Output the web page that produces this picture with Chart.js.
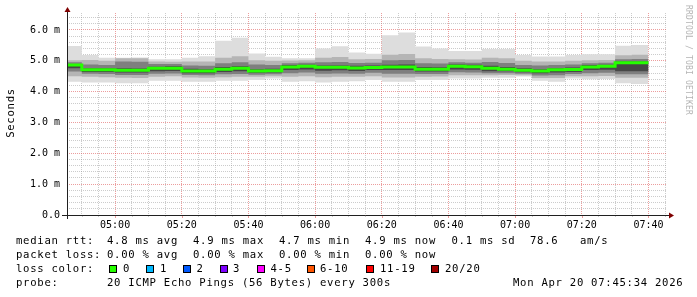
<!DOCTYPE html>
<html><head><meta charset="utf-8">
<script src="https://cdn.jsdelivr.net/npm/chart.js@4/dist/chart.umd.min.js"></script>
<style>html,body{margin:0;padding:0;background:#fff;overflow:hidden}canvas{display:block}</style>
</head><body>
<canvas id="c" width="697" height="297"></canvas>
<script>
// ---- data ----
const startTime = '04:45:34';
const endTime = '07:45:34';
const stepEnds = ['04:50','04:55','05:00','05:05','05:10','05:15','05:20','05:25','05:30','05:35','05:40','05:45',
  '05:50','05:55','06:00','06:05','06:10','06:15','06:20','06:25','06:30','06:35','06:40','06:45',
  '06:50','06:55','07:00','07:05','07:10','07:15','07:20','07:25','07:30','07:35','07:40'];
const medianRtt = [4.86,4.71,4.71,4.69,4.69,4.76,4.76,4.67,4.67,4.73,4.76,4.67,4.68,4.80,4.82,4.79,4.79,4.77,4.78,4.80,4.80,4.73,4.73,4.82,4.81,4.76,4.73,4.69,4.67,4.71,4.72,4.80,4.82,4.94,4.94];
const smokeMax = [5.48,5.19,5.10,5.10,5.11,5.05,5.05,5.10,5.15,5.65,5.75,5.24,5.13,5.08,5.08,5.40,5.47,5.27,5.23,5.83,5.92,5.46,5.40,5.32,5.32,5.38,5.38,5.19,5.14,5.14,5.19,5.21,5.21,5.49,5.51];
const smokeP18 = [5.02,5.03,5.00,5.08,5.08,4.98,4.97,4.98,4.98,5.10,5.15,5.02,5.00,5.01,5.02,5.10,5.12,5.05,5.06,5.20,5.22,5.08,5.06,5.05,5.04,5.10,5.08,5.00,4.98,4.98,5.00,5.02,5.03,5.18,5.20];
const smokeP15 = [4.95,4.88,4.86,4.98,4.97,4.90,4.90,4.85,4.84,4.92,4.95,4.88,4.86,4.92,4.94,4.95,4.96,4.93,4.94,5.02,5.03,4.92,4.91,4.95,4.94,4.96,4.93,4.86,4.85,4.86,4.88,4.92,4.94,5.05,5.06];
const smokeP12 = [4.90,4.76,4.76,4.76,4.75,4.81,4.82,4.74,4.73,4.80,4.82,4.73,4.74,4.86,4.87,4.85,4.85,4.84,4.85,4.87,4.88,4.80,4.79,4.88,4.87,4.84,4.80,4.76,4.73,4.76,4.78,4.86,4.87,4.98,4.98];
const smokeP9 = [4.76,4.64,4.64,4.62,4.62,4.66,4.67,4.60,4.60,4.64,4.66,4.61,4.62,4.70,4.72,4.68,4.69,4.67,4.70,4.70,4.70,4.65,4.65,4.72,4.71,4.66,4.66,4.63,4.60,4.62,4.64,4.70,4.71,4.66,4.66];
const smokeP6 = [4.65,4.58,4.57,4.54,4.54,4.58,4.59,4.54,4.53,4.56,4.57,4.55,4.56,4.60,4.62,4.58,4.59,4.58,4.61,4.58,4.58,4.57,4.57,4.63,4.62,4.60,4.60,4.58,4.52,4.53,4.57,4.60,4.61,4.56,4.56];
const smokeP3 = [4.50,4.48,4.47,4.45,4.44,4.48,4.50,4.46,4.45,4.47,4.48,4.48,4.50,4.48,4.50,4.47,4.48,4.48,4.50,4.46,4.46,4.48,4.49,4.53,4.53,4.53,4.54,4.53,4.44,4.44,4.50,4.50,4.51,4.45,4.45];
const smokeMin = [4.32,4.30,4.30,4.27,4.27,4.35,4.35,4.32,4.32,4.35,4.35,4.38,4.43,4.32,4.34,4.30,4.32,4.34,4.38,4.32,4.32,4.38,4.38,4.43,4.43,4.45,4.45,4.49,4.35,4.32,4.43,4.40,4.41,4.27,4.25];
const xTickLabels = ['05:00','05:20','05:40','06:00','06:20','06:40','07:00','07:20','07:40'];
const yTickValues = [0,1,2,3,4,5,6];
const yTickLabels = ['0.0','1.0 m','2.0 m','3.0 m','4.0 m','5.0 m','6.0 m'];
const lossLabels = ['0','1','2','3','4-5','6-10','11-19','20/20'];
const lossColors = ['#26ff00','#00b8ff','#0059ff','#7e00ff','#ff00ff','#ff5500','#ff0000','#a10000'];

// ---- helpers ----
function toMin(s){ const p=s.split(':').map(Number); return p[0]*60+p[1]+(p[2]||0)/60; }
const T0 = toMin(startTime), T1 = toMin(endTime);
function stepPts(vals){
  const pts=[{x:T0,y:vals[0]}];
  stepEnds.forEach((t,i)=>pts.push({x:toMin(t),y:vals[i]}));
  return pts;
}
const xLabelMap = {}; xTickLabels.forEach(l=>xLabelMap[toMin(l)]=l);
const yLabelMap = {}; yTickValues.forEach((v,i)=>yLabelMap[v]=yTickLabels[i]);

const none='rgba(0,0,0,0)';
function band(vals, fill, color){
  return {data:stepPts(vals), stepped:'after', borderColor:none, borderWidth:0, pointRadius:0,
    fill: fill ? '+1' : false, backgroundColor: color||none};
}
const datasets = [
  {data:stepPts(medianRtt), stepped:'after', borderColor:'#26ff00', borderWidth:3, pointRadius:0, fill:false},
  band(smokeP12,true,'#474747'), band(smokeP9,false),
  band(smokeP15,true,'#7f7f7f'), band(smokeP6,false),
  band(smokeP18,true,'#b5b5b5'), band(smokeP3,false),
  band(smokeMax,true,'#dddddd'), band(smokeMin,false)
];

const GRID='rgba(143,143,143,0.46)', MGRID='rgba(222,80,80,0.56)';
const MONO='"DejaVu Sans Mono", monospace';

function drawMono(ctx, str, x, y, adv){
  for(let i=0;i<str.length;i++) ctx.fillText(str[i], x+i*adv, y);
}

const deco = {
  id:'deco',
  beforeDraw(chart){ const c=chart.ctx; c.save(); c.fillStyle='#fff'; c.fillRect(0,0,chart.width,chart.height); c.restore(); },
  afterDraw(chart){
    const c=chart.ctx, a=chart.chartArea, xs=chart.scales.x, ys=chart.scales.y;
    c.save();
    // small ticks on x axis
    c.lineWidth=1;
    xs.ticks.forEach(t=>{
      const px=Math.round(xs.getPixelForValue(t.value))+0.5;
      const major = Math.round(t.value)%20===0;
      c.strokeStyle = major?MGRID:GRID;
      c.beginPath(); c.moveTo(px,a.bottom); c.lineTo(px,a.bottom+(major?3:2)); c.stroke();
    });
    // axes
    c.strokeStyle='#202020';
    c.beginPath(); c.moveTo(62,a.bottom+0.5); c.lineTo(a.right+2,a.bottom+0.5); c.stroke();
    c.beginPath(); c.moveTo(a.left+0.5,a.bottom+4); c.lineTo(a.left+0.5,a.top-1); c.stroke();
    // arrows
    c.fillStyle='#7f0000';
    c.beginPath(); c.moveTo(a.right+2,a.bottom-2.5); c.lineTo(a.right+7,a.bottom+0.5); c.lineTo(a.right+2,a.bottom+3.5); c.closePath(); c.fill();
    c.beginPath(); c.moveTo(a.left-2.5,a.top-1); c.lineTo(a.left+0.5,a.top-6); c.lineTo(a.left+3.5,a.top-1); c.closePath(); c.fill();
    // y title
    c.fillStyle='#000'; c.font='10.6px '+MONO; c.textBaseline='middle'; c.textAlign='left';
    c.save(); c.translate(11,113); c.rotate(-Math.PI/2); drawMono(c,'Seconds',-3.5*7.1,0,7.1); c.restore();
    // watermark
    c.save(); c.fillStyle='#b4b4b4'; c.font='8px '+MONO; c.translate(688,5); c.rotate(Math.PI/2); drawMono(c,'RRDTOOL / TOBI OETIKER',0,0,5); c.restore();
    // legend
    const adv=7.1;
    const L1=241,L2=255,L3=269,L4=283;
    [['median rtt:',16],['4.8 ms avg',107],['4.9 ms max',193],['4.7 ms min',279],['4.9 ms now',365],['0.1 ms sd',451.5],['78.6',530],['am/s',580]]
      .forEach(p=>drawMono(c,p[0],p[1],L1,adv));
    [['packet loss:',16],['0.00 % avg',107],['0.00 % max',193],['0.00 % min',279],['0.00 % now',365]]
      .forEach(p=>drawMono(c,p[0],p[1],L2,adv));
    drawMono(c,'loss color:',16,L3,adv);
    const boxX=[108.5,145.5,182.5,219.5,256.5,306.5,366,430.5];
    const labX=[123,160,196.5,233,270.5,320,380,445];
    lossLabels.forEach((l,i)=>{
      const bx=Math.round(boxX[i]);
      c.fillStyle=lossColors[i]; c.fillRect(bx,265,8,8);
      c.strokeStyle='#000'; c.lineWidth=1; c.strokeRect(bx+0.5,265.5,7,7);
      c.fillStyle='#000'; drawMono(c,l,labX[i],L3,adv);
    });
    drawMono(c,'probe:',16,L4,adv);
    drawMono(c,'20 ICMP Echo Pings (56 Bytes) every 300s',107,L4,adv);
    drawMono(c,'Mon Apr 20 07:45:34 2026',513,L4,adv);
    c.restore();
  }
};

new Chart(document.getElementById('c'), {
  type:'line',
  data:{datasets},
  options:{
    responsive:false, animation:false, devicePixelRatio:1,
    layout:{padding:{left:0,right:30,top:13,bottom:0}},
    plugins:{legend:{display:false}, tooltip:{enabled:false}, filler:{propagate:false}},
    scales:{
      x:{type:'linear', min:T0, max:T1, z:1,
        afterBuildTicks(s){ const t=[]; for(let m=Math.ceil(T0/5)*5; m<=T1; m+=5) t.push({value:m}); s.ticks=t; },
        afterFit(s){ s.height=82; },
        ticks:{autoSkip:false, maxRotation:0, minRotation:0, padding:4, color:'#000', font:{family:MONO,size:10},
          callback(v){ return xLabelMap[v]||''; }},
        grid:{drawTicks:false, lineWidth:1, color(ctx){ return (ctx.tick && Math.round(ctx.tick.value)%20===0)?MGRID:GRID; }},
        border:{display:false, dash:[1,1]}
      },
      y:{type:'linear', min:0, max:6.55, z:1,
        afterBuildTicks(s){ const t=[]; for(let i=0;i<=32;i++) t.push({value:i/5}); s.ticks=t; },
        afterFit(s){ s.width=67; },
        ticks:{autoSkip:false, padding:7, color:'#000', font:{family:MONO,size:10},
          callback(v){ const k=Math.round(v*5); return k%5===0 ? (yLabelMap[k/5]||'') : ''; }},
        grid:{drawTicks:false, lineWidth:1, color(ctx){ return (ctx.tick && Math.round(ctx.tick.value*5)%5===0)?MGRID:GRID; }},
        border:{display:false, dash:[1,1]}
      }
    }
  },
  plugins:[deco]
});
</script></body></html>
